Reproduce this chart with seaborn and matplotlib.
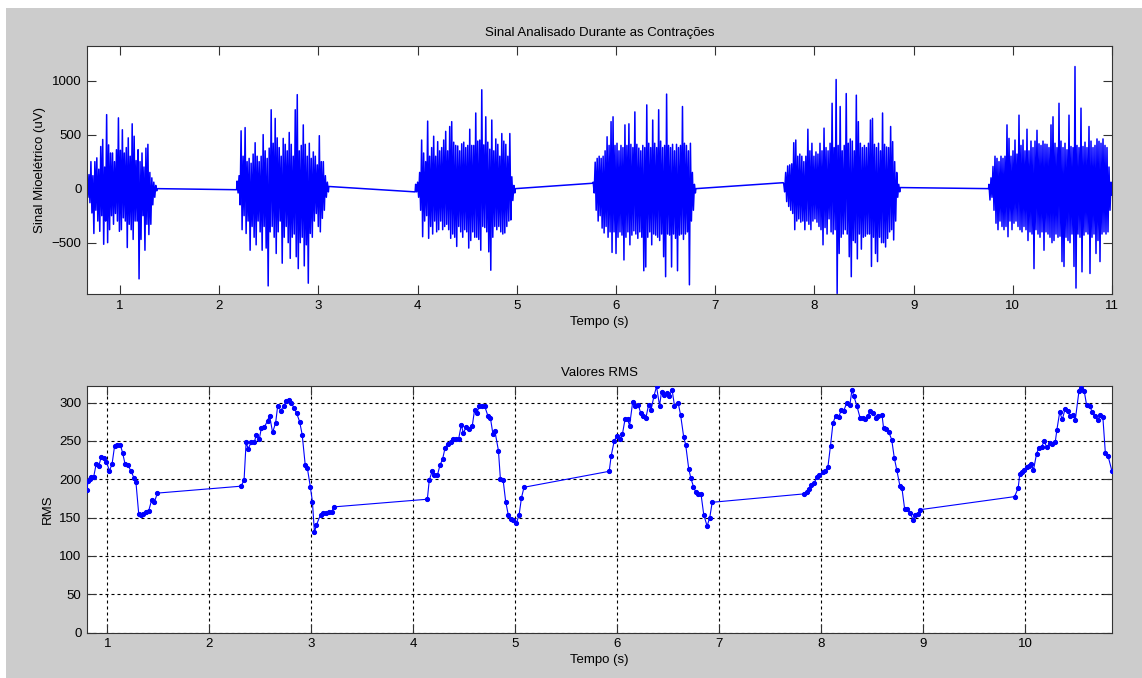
import numpy as np
import seaborn as sns
import matplotlib.pyplot as plt
from matplotlib.patches import Rectangle

plt.rcParams['font.family'] = ['Liberation Sans', 'DejaVu Sans']

# --- EMG signal: six contractions ---
burst_start = [0.667, 2.18, 3.98, 5.77, 7.69, 9.76]
burst_end = [1.37, 3.10, 4.98, 6.80, 8.86, 11.0]
# baseline level just after a burst / just before the next one
rest_after = [0, 20, 0, 0, 10]
rest_before = [-10, -30, 50, 55, 0]

b1_hi = [90, 130, 250, 120, 250, 285, 180, 390, 455, 200, 685, 405, 330, 330, 250, 360, 655, 355,
         545, 330, 380, 470, 300, 600, 485, 260, 360, 250, 330, 200, 375, 410, 150, 100, 60, 30]
b1_lo = [-80, -130, -225, -415, -200, -300, -395, -250, -515, -300, -500, -380, -250, -330, -230, -300,
         -395, -380, -270, -300, -545, -330, -380, -470, -300, -300, -835, -470, -250, -570, -330, -425,
         -330, -150, -80, -20]
b2_hi = [70, 120, 535, 300, 565, 250, 280, 235, 320, 425, 300, 250, 300, 500, 350, 280, 375, 730, 420,
         650, 470, 380, 300, 465, 410, 350, 520, 410, 300, 730, 870, 350, 400, 590, 410, 300, 420, 280,
         340, 300, 220, 490, 250, 250, 120, 60]
b2_lo = [-40, -150, -380, -250, -415, -300, -570, -350, -450, -520, -300, -400, -570, -350, -550, -900,
         -400, -350, -450, -600, -400, -300, -690, -450, -350, -500, -645, -450, -420, -630, -740, -500,
         -450, -715, -520, -875, -415, -450, -300, -230, -350, -400, -275, -200, -80, -30]
b3_hi = [40, 60, 150, 450, 330, 250, 625, 300, 380, 485, 300, 435, 350, 380, 450, 530, 350, 575, 620,
         430, 400, 395, 350, 415, 430, 380, 400, 550, 400, 400, 700, 440, 450, 915, 405, 665, 430, 365,
         635, 350, 460, 410, 300, 510, 440, 410, 300, 510, 110, 30]
b3_lo = [-30, -80, -200, -445, -300, -250, -460, -350, -420, -300, -400, -380, -300, -380, -350, -330,
         -380, -460, -420, -450, -535, -350, -400, -450, -380, -400, -550, -480, -400, -450, -450, -470,
         -570, -350, -360, -400, -585, -755, -450, -350, -380, -350, -400, -420, -410, -350, -300, -290,
         -110, -40]
b4_hi = [60, 245, 280, 300, 280, 300, 350, 480, 400, 620, 665, 400, 420, 350, 400, 380, 590, 400, 600,
         410, 380, 710, 410, 375, 350, 400, 380, 775, 420, 380, 635, 420, 380, 730, 440, 380, 400, 875,
         400, 380, 410, 350, 410, 380, 400, 760, 420, 400, 350, 420, 150, 40]
b4_lo = [-40, -200, -300, -250, -365, -410, -350, -450, -400, -590, -400, -600, -450, -400, -430, -660,
         -450, -400, -520, -430, -390, -420, -460, -400, -450, -760, -725, -450, -400, -520, -420, -430,
         -450, -480, -420, -630, -815, -420, -430, -725, -420, -460, -760, -430, -420, -470, -420, -400,
         -890, -300, -200, -40]
b5_hi = [50, 150, 210, 220, 230, 425, 450, 300, 320, 300, 250, 300, 550, 350, 420, 300, 340, 320, 420,
         350, 560, 380, 350, 420, 790, 380, 1010, 400, 760, 350, 400, 880, 420, 460, 440, 350, 865, 620,
         420, 380, 400, 380, 420, 635, 650, 410, 380, 420, 350, 700, 410, 385, 380, 575, 435, 250, 150, 40]
b5_lo = [-30, -120, -165, -200, -230, -380, -300, -280, -310, -300, -380, -300, -330, -380, -300, -280,
         -310, -350, -380, -520, -360, -420, -280, -400, -420, -380, -970, -600, -450, -420, -380, -420,
         -630, -815, -480, -500, -650, -420, -560, -450, -440, -420, -420, -720, -450, -600, -675, -450,
         -500, -500, -540, -460, -400, -380, -475, -300, -80, -30]
b6_hi = [40, 100, 205, 300, 280, 250, 300, 280, 300, 590, 465, 300, 350, 450, 320, 680, 400, 450, 350,
         550, 350, 440, 380, 440, 540, 415, 400, 440, 412, 410, 380, 590, 665, 420, 380, 790, 440, 380,
         420, 360, 680, 390, 380, 1130, 400, 380, 745, 390, 430, 380, 575, 440, 380, 400, 460, 438, 420,
         460, 400, 380, 200, 60]
b6_lo = [-105, -80, -200, -320, -380, -300, -350, -380, -350, -445, -300, -380, -320, -300, -350, -380,
         -400, -350, -380, -480, -400, -420, -740, -380, -420, -450, -400, -570, -400, -420, -450, -500,
         -480, -420, -450, -440, -675, -720, -450, -480, -500, -420, -720, -920, -420, -450, -770, -430,
         -400, -420, -785, -450, -420, -600, -480, -675, -420, -400, -420, -400, -200, -60]

burst_hi = [b1_hi, b2_hi, b3_hi, b4_hi, b5_hi, b6_hi]
burst_lo = [b1_lo, b2_lo, b3_lo, b4_lo, b5_lo, b6_lo]

# --- RMS values (time in s, RMS) ---
rms_t = [0.80, 0.81, 0.83, 0.84, 0.866, 0.89, 0.915, 0.94, 0.967, 0.99, 1.02, 1.046, 1.07, 1.098, 1.127,
         1.15, 1.173, 1.20, 1.23, 1.26, 1.28, 1.307, 1.33, 1.35, 1.376, 1.405, 1.435, 1.46, 1.49,
         2.31, 2.34, 2.36, 2.38, 2.41, 2.44, 2.46, 2.49, 2.51, 2.54, 2.57, 2.59, 2.62, 2.65, 2.67, 2.70,
         2.73, 2.755, 2.78, 2.805, 2.83, 2.856, 2.885, 2.91, 2.94, 2.96, 2.99, 3.01, 3.03, 3.05, 3.09,
         3.11, 3.14, 3.17, 3.20, 3.22,
         4.137, 4.156, 4.186, 4.205, 4.235, 4.26, 4.287, 4.31, 4.335, 4.365, 4.39, 4.417, 4.443, 4.47,
         4.49, 4.518, 4.547, 4.577, 4.60, 4.62, 4.648, 4.674, 4.70, 4.73, 4.756, 4.78, 4.80, 4.834, 4.853,
         4.88, 4.905, 4.93, 4.954, 4.98, 5.01, 5.036, 5.06, 5.085,
         5.92, 5.94, 5.97, 6.00, 6.026, 6.05, 6.075, 6.10, 6.12, 6.15, 6.17, 6.205, 6.23, 6.25, 6.28,
         6.306, 6.33, 6.36, 6.384, 6.414, 6.433, 6.46, 6.485, 6.51, 6.537, 6.56, 6.596, 6.62, 6.65, 6.67,
         6.70, 6.72, 6.746, 6.77, 6.79, 6.82, 6.847, 6.88, 6.906, 6.93,
         7.834, 7.86, 7.88, 7.90, 7.93, 7.955, 7.98, 8.016, 8.04, 8.065, 8.09, 8.114, 8.14, 8.17, 8.196,
         8.22, 8.25, 8.28, 8.30, 8.32, 8.35, 8.38, 8.405, 8.43, 8.457, 8.48, 8.51, 8.536, 8.56, 8.595,
         8.61, 8.637, 8.66, 8.69, 8.716, 8.74, 8.77, 8.79, 8.817, 8.843, 8.87, 8.90, 8.92, 8.95, 8.97,
         9.895, 9.93, 9.946, 9.967, 9.99, 10.016, 10.04, 10.06, 10.08, 10.11, 10.13, 10.16, 10.186, 10.21,
         10.24, 10.265, 10.294, 10.31, 10.337, 10.363, 10.39, 10.415, 10.44, 10.467, 10.49, 10.526,
         10.55, 10.577, 10.60, 10.63, 10.657, 10.68, 10.71, 10.735, 10.76, 10.785, 10.81, 10.85]
rms_v = [186.5, 198, 200, 203, 203.5, 220, 217, 229.5, 228, 223, 211, 220, 243, 245, 245, 234, 220, 219,
         211, 202, 196, 155, 154, 155, 157, 159, 173.5, 170, 182,
         191, 199, 248, 240, 248, 248, 258, 253, 267, 268, 276.5, 283, 261, 274, 296, 289.5, 296, 302,
         304, 299, 293, 286, 275, 258, 218, 215, 190, 171, 131, 140.5, 154, 156, 156, 157, 158, 164,
         174, 199, 211, 205, 205, 218, 226.5, 240.5, 246, 249, 252, 252, 252, 271, 260, 268.5, 265.5,
         269, 290.5, 286.5, 295, 295, 295, 283, 279.5, 259, 262.5, 237.4, 201, 199, 171, 154, 148,
         147.4, 143, 153, 176, 189.6,
         210.4, 231, 250.4, 257, 252.6, 259, 278, 278, 270, 300.4, 296, 297, 286, 283, 280, 297, 290.4,
         309, 321, 296, 314, 310, 312, 309, 316.5, 296, 299.6, 284, 255.6, 245, 213.5, 202, 190.4, 183,
         181, 181, 154, 139, 150, 170,
         181, 184, 187.6, 192.6, 195, 203, 206, 209, 211.3, 216.5, 244, 273, 283, 281, 290.4, 289.6,
         299.6, 297, 316.5, 308, 295, 280, 279.5, 278, 283, 289.6, 286.5, 280, 282, 284, 267, 265.6,
         262, 251.7, 227.4, 212, 191.7, 188.7, 161.3, 161.3, 156, 147.4, 154, 155, 160.4,
         177.4, 188.7, 207, 209, 212, 215.6, 217.8, 220, 212, 233, 240.4, 242.6, 249.6, 241.7, 247.4,
         246, 249, 264.8, 287.4, 278, 291.7, 288.7, 282, 284, 277.4, 314.8, 319, 315.6, 297.4, 296,
         287.4, 282, 277.4, 284, 281.7, 234, 231, 210.4]

# build the signal trace: bursts sampled evenly, joined by the resting baseline
sig_t, sig_v = [], []
for i in range(len(burst_start)):
    vals = np.column_stack([burst_hi[i], burst_lo[i]]).ravel()
    tt = np.linspace(burst_start[i], burst_end[i], len(vals))
    if i > 0:
        sig_t.append([burst_start[i] - 0.005])
        sig_v.append([rest_before[i - 1]])
    sig_t.append(tt)
    sig_v.append(vals)
    if i < len(burst_start) - 1:
        sig_t.append([burst_end[i] + 0.005])
        sig_v.append([rest_after[i]])
sig_t = np.concatenate(sig_t)
sig_v = np.concatenate(sig_v)

W, H = 1142, 678
fig = plt.figure(figsize=(W / 100, H / 100), dpi=100, facecolor='white')
fig.add_artist(Rectangle((6 / W, 0), 1, 1 - 8 / H, transform=fig.transFigure,
                         facecolor='#cccccc', edgecolor='none', zorder=-10))

ax1 = fig.add_axes([87 / W, 1 - 294 / H, 1025 / W, 248 / H])
ax2 = fig.add_axes([87 / W, 1 - 632.7 / H, 1025 / W, 247 / H])

sns.lineplot(x=sig_t, y=sig_v, ax=ax1, estimator=None, sort=False,
             color='#0000ff', linewidth=1.1)
sns.lineplot(x=rms_t, y=rms_v, ax=ax2, estimator=None, sort=False,
             color='#0000ff', linewidth=0.8, marker='o', markersize=3.0,
             markeredgecolor='#0000ff', zorder=3)

ax1.set_xlim(0.667, 11)
ax1.set_ylim(-975, 1320)
ax1.set_xticks(range(1, 12))
ax1.set_yticks([-500, 0, 500, 1000])
ax1.set_title('Sinal Analisado Durante as Contrações', fontsize=9.5, pad=7)
ax1.set_xlabel('Tempo (s)', fontsize=9.5, labelpad=3)
ax1.set_ylabel('Sinal Mioelétrico (uV)', fontsize=9.5, labelpad=4)

ax2.set_xlim(0.80, 10.85)
ax2.set_ylim(0, 322)
ax2.set_xticks(range(1, 11))
ax2.set_yticks(range(0, 301, 50))
ax2.set_title('Valores RMS', fontsize=9.5, pad=7)
ax2.set_xlabel('Tempo (s)', fontsize=9.5, labelpad=3)
ax2.set_ylabel('RMS', fontsize=9.5, labelpad=4)
ax2.grid(True, color='black', linestyle=(0, (2.7, 2.7)), linewidth=0.8)

for ax in (ax1, ax2):
    ax.set_facecolor('white')
    ax.tick_params(direction='in', length=6.5, width=0.8, top=True, right=True,
                   labelsize=9.5, color='#333333', pad=4)
    for s in ax.spines.values():
        s.set_color('#333333')
        s.set_linewidth(0.8)

fig.savefig('out.png', dpi=100, facecolor=fig.get_facecolor())
